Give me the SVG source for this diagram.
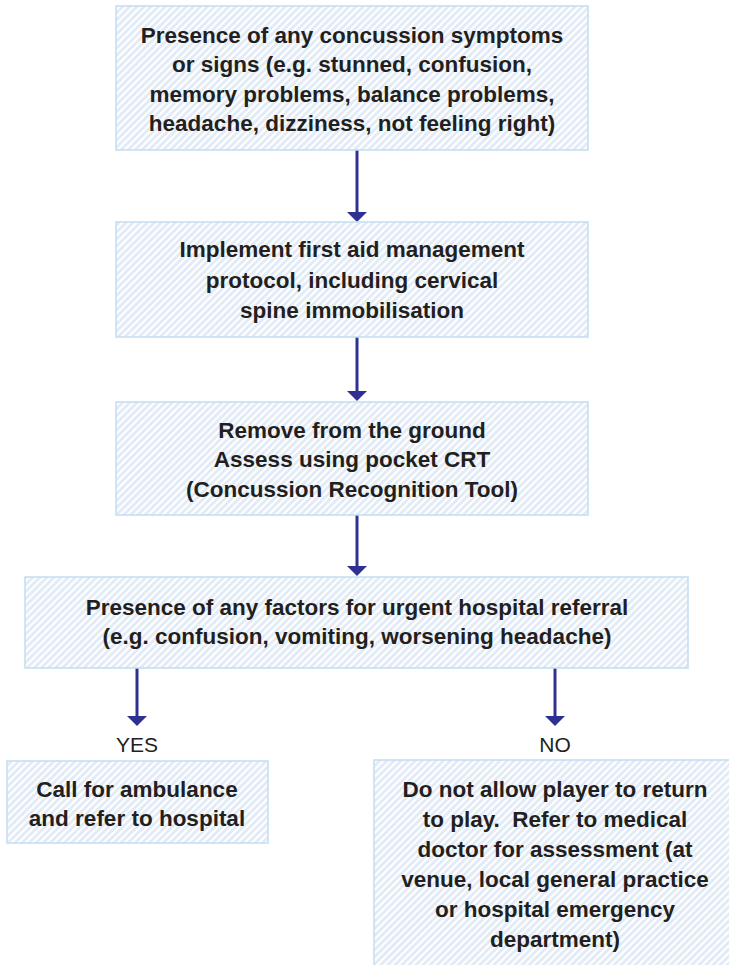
<svg xmlns="http://www.w3.org/2000/svg" width="729" height="965" viewBox="0 0 729 965">
<defs>
<pattern id="hatch" width="5" height="5" patternUnits="userSpaceOnUse" patternTransform="rotate(45)">
<rect width="5" height="5" fill="#ffffff"/>
<rect width="3" height="5" fill="#e3ecf6"/>
</pattern>
</defs>
<style>
.box{fill:url(#hatch);stroke:#c3ddf1;stroke-width:1.5}
.t{font-family:"Liberation Sans",Arial,sans-serif;font-weight:bold;font-size:22.5px;fill:#231f20;text-anchor:middle;white-space:pre}
.lbl{font-family:"Liberation Sans",Arial,sans-serif;font-size:21px;fill:#231f20;text-anchor:middle}
.c{stroke:#2e3192;stroke-width:3;fill:none}
.ah{fill:#2e3192}
</style>
<rect width="729" height="965" fill="#ffffff"/>
<g id="connectors">
<line class="c" x1="357" y1="146" x2="357" y2="212"/>
<path class="ah" d="M347,212 L367,212 L357,222 Z"/>
<line class="c" x1="357" y1="337" x2="357" y2="391"/>
<path class="ah" d="M347,391 L367,391 L357,401 Z"/>
<line class="c" x1="357" y1="515" x2="357" y2="566"/>
<path class="ah" d="M347,566 L367,566 L357,576 Z"/>
<line class="c" x1="137" y1="668" x2="137" y2="716"/>
<path class="ah" d="M127,716 L147,716 L137,726 Z"/>
<line class="c" x1="555" y1="668" x2="555" y2="716"/>
<path class="ah" d="M545,716 L565,716 L555,726 Z"/>
<text class="lbl" x="137" y="752">YES</text>
<text class="lbl" x="555" y="752">NO</text>
</g>
<g id="n1">
<rect class="box" x="116" y="6" width="472" height="144"/>
<text class="t" x="352" y="43">Presence of any concussion symptoms</text>
<text class="t" x="352" y="72">or signs (e.g. stunned, confusion,</text>
<text class="t" x="352" y="102">memory problems, balance problems,</text>
<text class="t" x="352" y="131">headache, dizziness, not feeling right)</text>
</g>
<g id="n2">
<rect class="box" x="116" y="222" width="472" height="115"/>
<text class="t" x="352" y="257">Implement first aid management</text>
<text class="t" x="352" y="288">protocol, including cervical</text>
<text class="t" x="352" y="318">spine immobilisation</text>
</g>
<g id="n3">
<rect class="box" x="116" y="402" width="472" height="113"/>
<text class="t" x="352" y="438">Remove from the ground</text>
<text class="t" x="352" y="467">Assess using pocket CRT</text>
<text class="t" x="352" y="497">(Concussion Recognition Tool)</text>
</g>
<g id="n4">
<rect class="box" x="25" y="577" width="663" height="91"/>
<text class="t" x="357" y="615">Presence of any factors for urgent hospital referral</text>
<text class="t" x="357" y="644">(e.g. confusion, vomiting, worsening headache)</text>
</g>
<g id="n5">
<rect class="box" x="7" y="761" width="261" height="82"/>
<text class="t" x="137" y="797">Call for ambulance</text>
<text class="t" x="137" y="826">and refer to hospital</text>
</g>
<g id="n6">
<rect class="box" x="374" y="760" width="360" height="210"/>
<text class="t" x="555" y="797">Do not allow player to return</text>
<text class="t" x="555" y="827">to play.  Refer to medical</text>
<text class="t" x="555" y="857">doctor for assessment (at</text>
<text class="t" x="555" y="887">venue, local general practice</text>
<text class="t" x="555" y="917">or hospital emergency</text>
<text class="t" x="555" y="947">department)</text>
</g>
</svg>
